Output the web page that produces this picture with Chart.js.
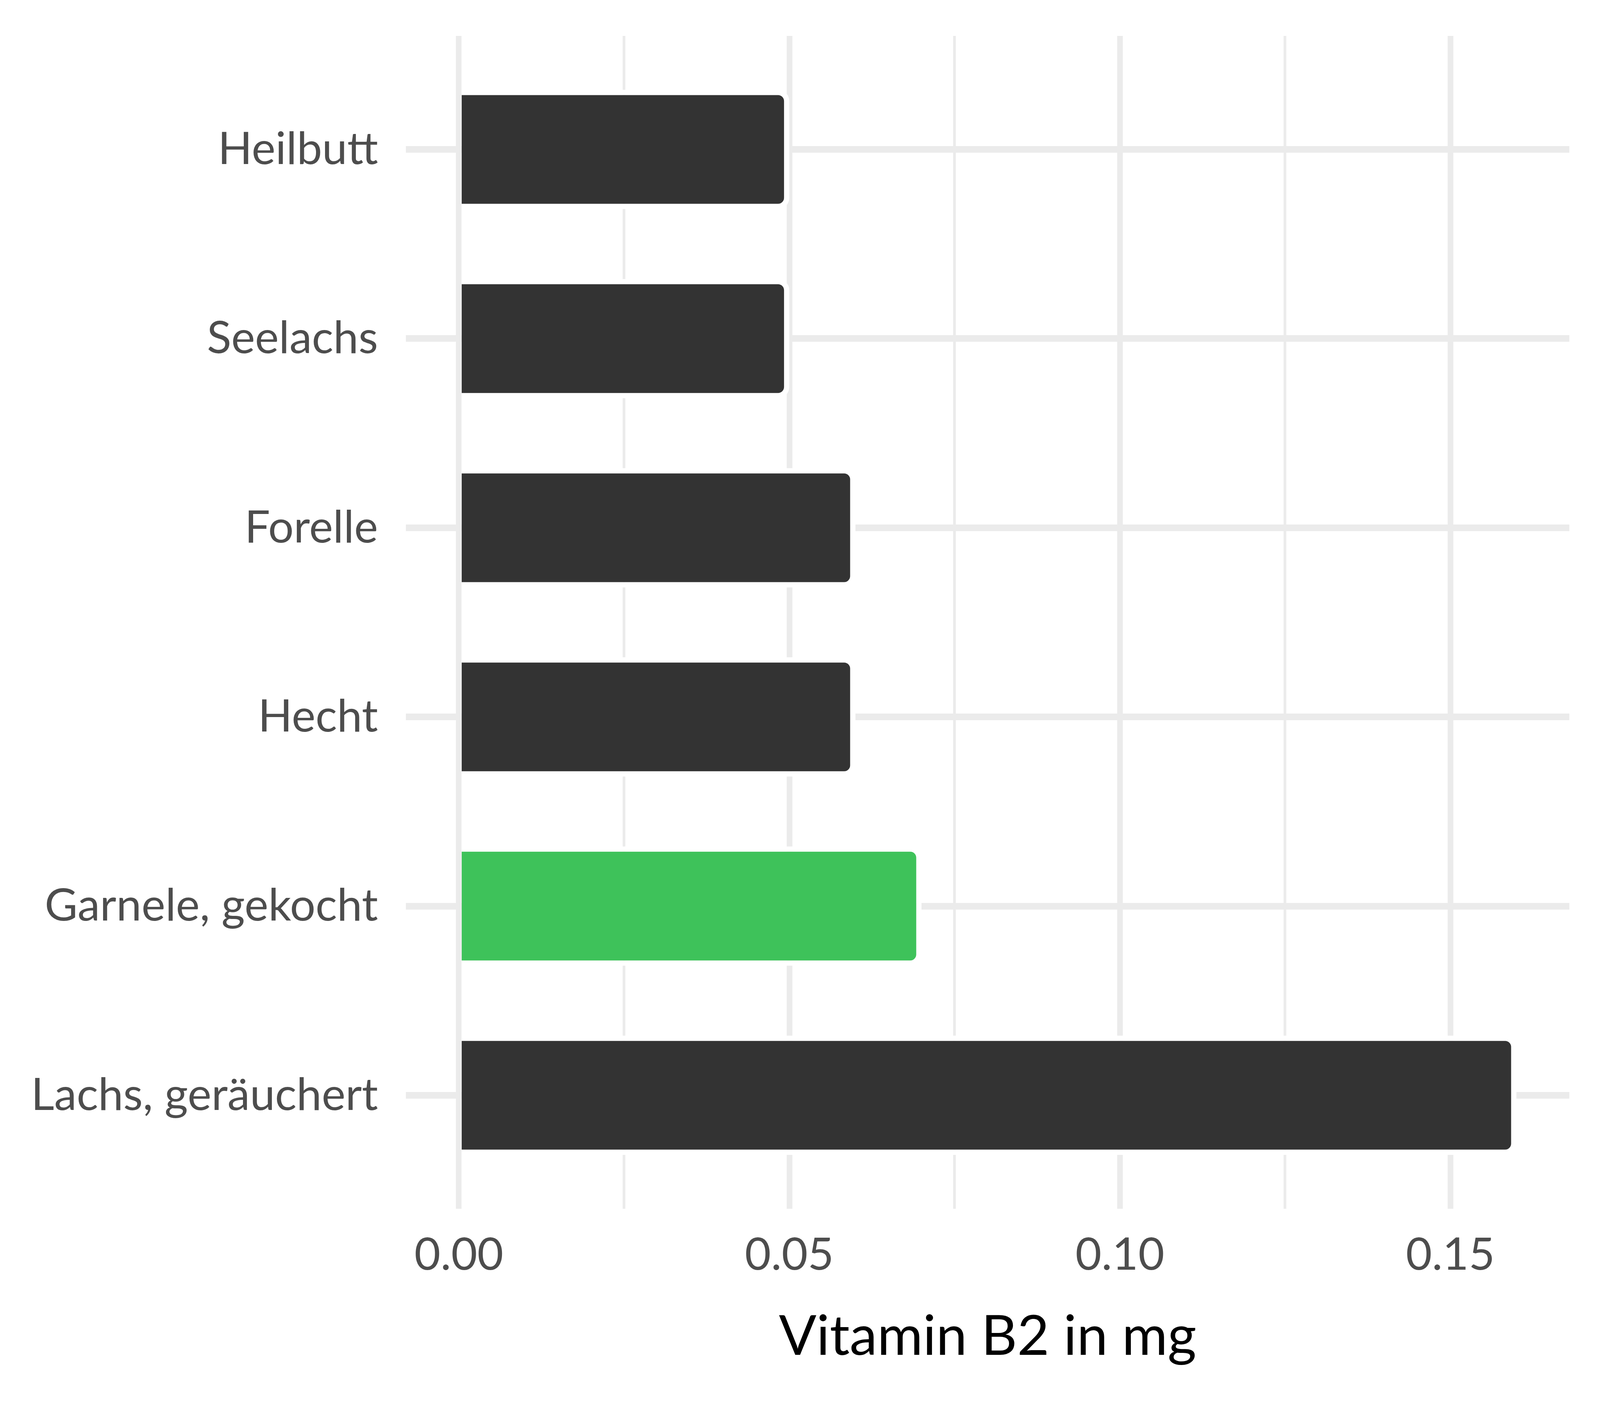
<!DOCTYPE html>
<html>
<head>
<meta charset="utf-8">
<script src="https://cdn.jsdelivr.net/npm/chart.js@4"></script>
<style>
  html, body { margin: 0; padding: 0; background: #ffffff; overflow: hidden; }
  #container { position: relative; width: 100vw; height: 100vh; }
</style>
</head>
<body>
<div id="container">
  <canvas id="canvas"></canvas>
</div>

<script>
// Lebensmittel (von oben nach unten) und Vitamin B2 in mg
var foods = ['Heilbutt', 'Seelachs', 'Forelle', 'Hecht', 'Garnele, gekocht', 'Lachs, geräuchert'];
var vitaminB2 = [0.05, 0.05, 0.06, 0.06, 0.07, 0.16];
var highlight = 'Garnele, gekocht';

var majorTicks = [0, 0.05, 0.10, 0.15];
var minorTicks = [0.025, 0.075, 0.125];
var axisTitle = 'Vitamin B2 in mg';

var gridColor = '#EBEBEB';
var textColor = '#4D4D4D';

// measured on a 4800x3600 picture, scaled to whatever the window really is
var ux = window.innerWidth / 4800;
var uy = window.innerHeight / 3600;
var fs = Math.min(ux, uy) * 1.04;

var points = [];
for (var i = 0; i < foods.length; i++) {
  points.push({ x: vitaminB2[i], y: i });
}
var barColors = foods.map(f => (f == highlight ? '#3EC25A' : '#333333'));

function isMajor(v) {
  return majorTicks.some(m => Math.abs(m - v) < 1e-9);
}

// no extra room for half labels, the plot area is set by the layout padding
function noLabelPadding(scale) {
  scale.paddingTop = 0;
  scale.paddingBottom = 0;
  scale.paddingLeft = 0;
  scale.paddingRight = 0;
}

var ctx = document.getElementById('canvas');
window.myBar = new Chart(ctx, {
  type: 'bar',
  data: {
    datasets: [{
      data: points,
      backgroundColor: barColors,
      borderColor: '#ffffff',
      borderWidth: 16 * ux,
      borderSkipped: 'start',
      borderRadius: 34 * ux,
      barPercentage: 0.631,
      categoryPercentage: 1.0
    }]
  },
  options: {
    indexAxis: 'y',
    responsive: true,
    maintainAspectRatio: false,
    animation: false,
    layout: { padding: { top: 92 * uy, right: 92 * ux, left: 0, bottom: 0 } },
    plugins: {
      legend: { display: false },
      tooltip: { enabled: false }
    },
    scales: {
      x: {
        type: 'linear',
        min: -0.008,
        max: 0.168,
        offset: false,
        afterBuildTicks: (scale) => {
          scale.ticks = majorTicks.concat(minorTicks).sort((a, b) => a - b).map(v => ({ value: v }));
        },
        afterFit: (scale) => {
          scale.height = 505 * uy;
          noLabelPadding(scale);
        },
        grid: {
          color: gridColor,
          lineWidth: (c) => (isMajor(c.tick.value) ? 17 * ux : 8 * ux),
          drawTicks: false,
          offset: false
        },
        border: { display: false },
        ticks: {
          color: textColor,
          font: { family: 'Lato', size: 130 * fs },
          padding: 50 * uy,
          maxRotation: 0,
          autoSkip: false,
          callback: (v) => (isMajor(v) ? v.toFixed(2) : '')
        },
        title: {
          display: true,
          text: axisTitle,
          color: '#000000',
          font: { family: 'Lato', size: 160 * fs },
          padding: { top: 0, bottom: 92 * uy }
        }
      },
      y: {
        type: 'linear',
        reverse: true,
        offset: false,
        min: -0.6,
        max: foods.length - 0.4,
        afterBuildTicks: (scale) => {
          scale.ticks = foods.map((f, i) => ({ value: i }));
        },
        afterFit: (scale) => {
          scale.width = 1218 * ux;
          noLabelPadding(scale);
        },
        grid: {
          color: gridColor,
          lineWidth: 17 * uy,
          drawTicks: false,
          offset: false
        },
        border: { display: false },
        ticks: {
          color: textColor,
          font: { family: 'Lato', size: 130 * fs },
          padding: 84 * ux,
          autoSkip: false,
          callback: (v) => foods[v]
        }
      }
    }
  }
});
</script>
</body>
</html>
